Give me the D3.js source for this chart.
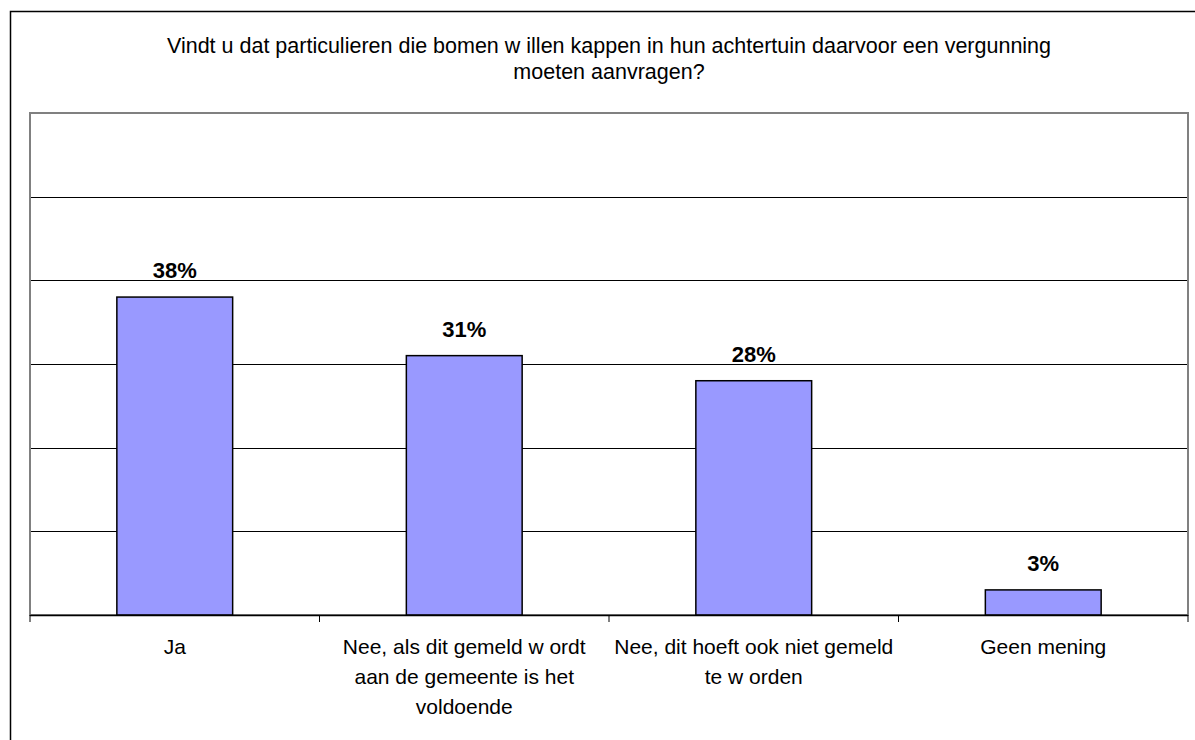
<!DOCTYPE html>
<html>
<head>
<meta charset="utf-8">
<script src="https://cdn.jsdelivr.net/npm/d3@7"></script>
<style>
  body { margin: 0; background: #fff; }
  text { font-family: "Liberation Sans", Arial, sans-serif; }
</style>
</head>
<body>
<svg id="chart"></svg>
<script>
const width = 1195, height = 740;

// Data
const categories = ["Ja", "Nee, als dit gemeld w ordt aan de gemeente is het voldoende", "Nee, dit hoeft ook niet gemeld te w orden", "Geen mening"];
const categoryLines = [
    ["Ja"],
    ["Nee, als dit gemeld w ordt", "aan de gemeente is het", "voldoende"],
    ["Nee, dit hoeft ook niet gemeld", "te w orden"],
    ["Geen mening"]
];
const values = [38, 31, 28, 3];
const yTicks = [0, 10, 20, 30, 40, 50, 60];
const titleLines = [
    "Vindt u dat particulieren die bomen w illen kappen in hun achtertuin daarvoor een vergunning",
    "moeten aanvragen?"
];

const plot = { left: 30, right: 1188, top: 113, bottom: 615 };

const svg = d3.select("#chart")
    .attr("width", width)
    .attr("height", height);

// outer chart border
svg.append("rect")
    .attr("x", 10.5).attr("y", 11.5)
    .attr("width", 1200).attr("height", 760)
    .attr("fill", "#fff")
    .attr("stroke", "#000")
    .attr("stroke-width", 1.5);

const x = d3.scaleBand()
    .domain(categories)
    .range([plot.left, plot.right])
    .padding(0);

const y = d3.scaleLinear()
    .domain([0, 60])
    .range([plot.bottom, plot.top]);

// title
svg.append("g").selectAll("text")
    .data(titleLines)
    .join("text")
    .attr("x", (plot.left + plot.right) / 2)
    .attr("y", (d, i) => 53 + i * 26)
    .attr("text-anchor", "middle")
    .attr("font-size", "21.5px")
    .attr("fill", "#000")
    .text(d => d);

// gridlines
svg.append("g").selectAll("line")
    .data(yTicks.filter(t => t > 0 && t < 60))
    .join("line")
    .attr("x1", plot.left).attr("x2", plot.right)
    .attr("y1", d => Math.round(y(d)) + 0.5)
    .attr("y2", d => Math.round(y(d)) + 0.5)
    .attr("stroke", "#000")
    .attr("stroke-width", 1);

// plot area border (gray)
svg.append("rect")
    .attr("x", plot.left).attr("y", plot.top)
    .attr("width", plot.right - plot.left)
    .attr("height", plot.bottom - plot.top)
    .attr("fill", "none")
    .attr("stroke", "#808080")
    .attr("stroke-width", 2);

// bars
const barW = x.bandwidth() * 0.4;
svg.append("g").selectAll("rect")
    .data(values)
    .join("rect")
    .attr("x", (d, i) => x(categories[i]) + (x.bandwidth() - barW) / 2)
    .attr("y", d => y(d))
    .attr("width", barW)
    .attr("height", d => y(0) - y(d))
    .attr("fill", "#9999FF")
    .attr("stroke", "#000")
    .attr("stroke-width", 1.5);

// value labels
svg.append("g").selectAll("text")
    .data(values)
    .join("text")
    .attr("x", (d, i) => x(categories[i]) + x.bandwidth() / 2)
    .attr("y", d => y(d) - 19)
    .attr("text-anchor", "middle")
    .attr("font-size", "22px")
    .attr("font-weight", "bold")
    .attr("fill", "#000")
    .text(d => d + "%");

// x axis baseline with ticks at band edges
const xAxis = svg.append("g");
xAxis.append("line")
    .attr("x1", plot.left).attr("x2", plot.right)
    .attr("y1", plot.bottom + 0.5).attr("y2", plot.bottom + 0.5)
    .attr("stroke", "#000")
    .attr("stroke-width", 1.5);

const edges = categories.map(c => x(c)).concat([plot.right]);
xAxis.selectAll("line.tick")
    .data(edges)
    .join("line")
    .attr("class", "tick")
    .attr("x1", d => d).attr("x2", d => d)
    .attr("y1", plot.bottom).attr("y2", plot.bottom + 7)
    .attr("stroke", "#000")
    .attr("stroke-width", 1);

// category labels
const labels = svg.append("g").selectAll("text")
    .data(categoryLines)
    .join("text")
    .attr("text-anchor", "middle")
    .attr("font-size", "21px")
    .attr("fill", "#000");

labels.selectAll("tspan")
    .data((d, i) => d.map(line => ({ line, i })))
    .join("tspan")
    .attr("x", d => x(categories[d.i]) + x.bandwidth() / 2)
    .attr("y", (d, j) => 654 + j * 30)
    .text(d => d.line);
</script>
</body>
</html>
